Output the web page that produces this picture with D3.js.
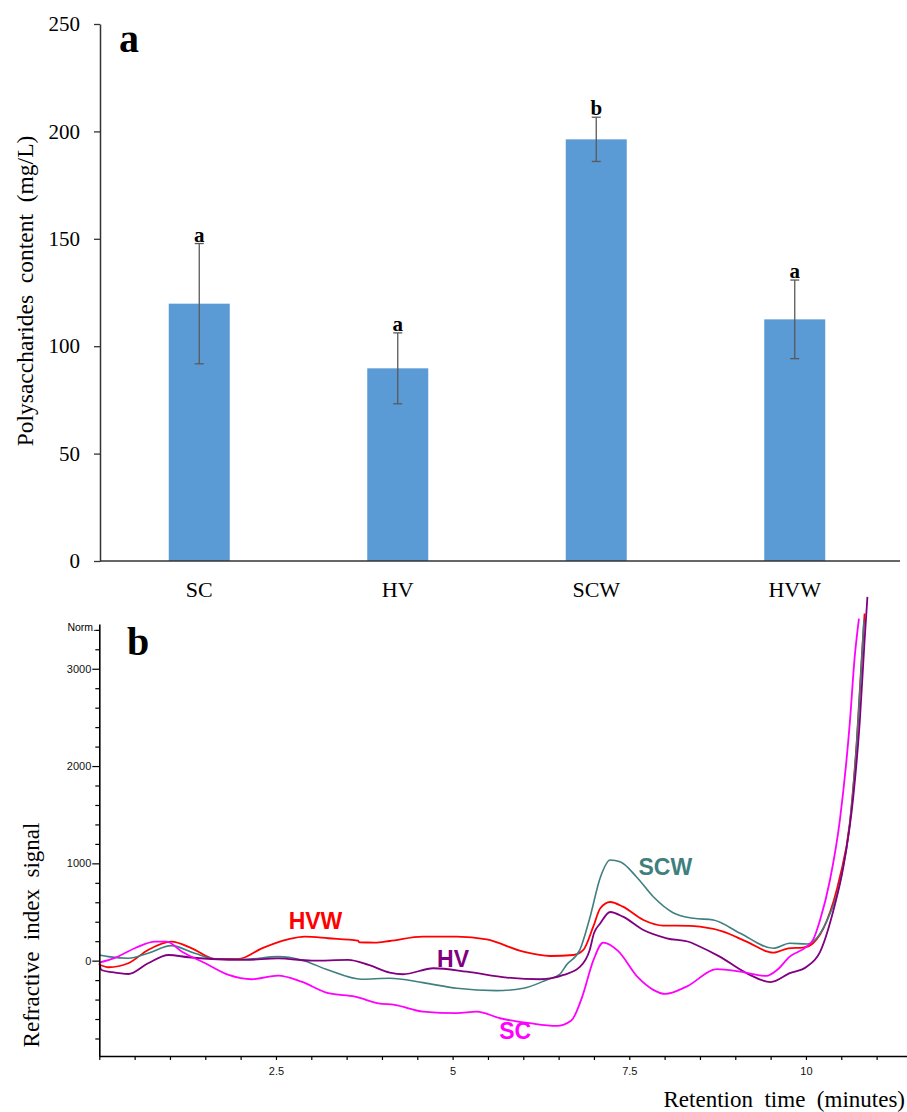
<!DOCTYPE html>
<html>
<head>
<meta charset="utf-8">
<script src="https://cdn.jsdelivr.net/npm/d3@7"></script>
<style>
  body { margin: 0; background: #fff; }
  svg { display: block; }
</style>
</head>
<body>
<svg id="svg" width="907" height="1112"></svg>
<script>
// ---- panel a : polysaccharides content ----
const groups = ['SC', 'HV', 'SCW', 'HVW'];
const contents = [119.8, 89.7, 196.3, 112.5];
const errors = [28, 16.5, 10.3, 18.3];
const letters = ['a', 'a', 'b', 'a'];
const contentTicks = [0, 50, 100, 150, 200, 250];

// ---- panel b : RI chromatograms, [time (min), signal] ----
const seriesNames = ['HVW', 'SCW', 'HV', 'SC'];
const hvw = [[0,-40],[0.13,-68],[0.41,-27],[0.69,110],[1.02,195],[1.31,127],[1.64,17],[1.97,17],[2.3,127],[2.67,219],[2.91,246],[3.24,230],[3.66,205],[3.68,189],[3.9,185],[4.11,202],[4.58,246],[5.06,246],[5.48,219],[6.0,92],[6.38,48],[6.71,58],[6.85,110],[6.99,349],[7.09,538],[7.23,603],[7.41,555],[7.7,418],[7.98,360],[8.36,358],[8.5,349],[8.83,298],[9.16,195],[9.54,82],[9.75,127],[9.96,134],[10.1,179],[10.29,400],[10.48,860],[10.62,1411],[10.72,2267],[10.79,3122],[10.83,3568]];
const scw = [[0,58],[0.13,41],[0.41,24],[0.69,76],[1.02,154],[1.35,76],[1.68,14],[2.06,14],[2.53,41],[2.86,7],[3.24,-96],[3.71,-191],[4.11,-181],[4.58,-226],[5.06,-284],[5.62,-308],[6.0,-284],[6.33,-198],[6.52,-137],[6.61,-44],[6.8,110],[6.94,435],[7.09,855],[7.23,1034],[7.37,1017],[7.6,863],[7.84,657],[8.12,493],[8.41,435],[8.69,418],[9.07,281],[9.54,127],[9.77,179],[10.01,171],[10.15,230],[10.29,401],[10.48,800],[10.62,1400],[10.72,2250],[10.79,3100],[10.82,3500]];
const hv = [[0,-27],[0.03,-96],[0.18,-119],[0.41,-137],[0.69,-27],[0.98,58],[1.26,35],[1.59,17],[2.06,7],[2.53,24],[3.01,0],[3.52,7],[3.81,-44],[4.11,-123],[4.3,-140],[4.73,-78],[5.2,-113],[5.77,-174],[6.24,-191],[6.57,-147],[6.8,-65],[6.94,110],[7.0,281],[7.09,384],[7.23,500],[7.41,452],[7.7,315],[8.03,230],[8.36,189],[8.45,161],[8.78,41],[9.16,-129],[9.5,-220],[9.77,-129],[10.01,-62],[10.2,90],[10.39,520],[10.53,966],[10.67,1684],[10.76,2438],[10.83,3294],[10.87,3739]];
const sc = [[0,-20],[0.22,28],[0.51,130],[0.79,195],[0.95,195],[1.17,92],[1.5,-27],[1.83,-147],[2.16,-191],[2.53,-154],[2.86,-216],[3.24,-335],[3.62,-370],[3.95,-438],[4.18,-455],[4.58,-524],[5.06,-540],[5.34,-524],[5.67,-592],[6.09,-643],[6.47,-671],[6.68,-615],[6.83,-380],[6.99,0],[7.13,185],[7.34,100],[7.62,-170],[7.84,-300],[8.01,-342],[8.31,-267],[8.74,-88],[9.07,-113],[9.44,-157],[9.59,-96],[9.77,41],[10.01,144],[10.1,213],[10.2,418],[10.34,829],[10.48,1445],[10.62,2438],[10.69,3122],[10.75,3516]];
const timeTicks = [2.5, 5, 7.5, 10];
const signalTicks = [0, 1000, 2000, 3000];

const svg = d3.select('#svg');
const serif = '"Liberation Serif", "Times New Roman", serif';
const sans = '"Liberation Sans", Arial, sans-serif';

drawBars();
drawTraces();

function drawBars() {
  const x = d3.scaleBand().domain(groups).range([100, 894]);
  const y = d3.scaleLinear().domain([0, 250]).range([561, 24]);
  const bw = 61;
  const g = svg.append('g');

  g.selectAll('rect').data(groups).join('rect')
    .attr('x', d => x(d) + x.bandwidth() / 2 - bw / 2)
    .attr('y', (d, i) => y(contents[i]))
    .attr('width', bw)
    .attr('height', (d, i) => y(0) - y(contents[i]))
    .attr('fill', '#5b9bd5');

  // error bars
  groups.forEach((d, i) => {
    const cx = x(d) + x.bandwidth() / 2;
    const top = y(contents[i] + errors[i]), bot = y(contents[i] - errors[i]);
    const eb = g.append('g').attr('stroke', '#595959').attr('stroke-width', 1.3);
    eb.append('line').attr('x1', cx).attr('x2', cx).attr('y1', top).attr('y2', bot);
    eb.append('line').attr('x1', cx - 4.5).attr('x2', cx + 4.5).attr('y1', top).attr('y2', top);
    eb.append('line').attr('x1', cx - 4.5).attr('x2', cx + 4.5).attr('y1', bot).attr('y2', bot);
    g.append('text')
      .attr('x', cx).attr('y', top - 2)
      .attr('text-anchor', 'middle')
      .attr('font-family', serif).attr('font-weight', 'bold').attr('font-size', 21)
      .text(letters[i]);
  });

  // y axis
  const ya = g.append('g').attr('transform', 'translate(100,0)')
    .call(d3.axisLeft(y).tickValues(contentTicks).tickSize(6).tickPadding(14).tickSizeOuter(0));
  ya.select('.domain').attr('stroke', '#333').attr('stroke-width', 1.5);
  ya.selectAll('.tick line').attr('stroke', '#333').attr('stroke-width', 1.3);
  ya.selectAll('text').attr('font-family', serif).attr('font-size', 21).attr('fill', '#000');

  // x axis
  g.append('line').attr('x1', 100).attr('x2', 900).attr('y1', y(0)).attr('y2', y(0))
    .attr('stroke', '#333').attr('stroke-width', 1.6);
  g.selectAll('.cat').data(groups).join('text')
    .attr('x', d => x(d) + x.bandwidth() / 2).attr('y', 597)
    .attr('text-anchor', 'middle')
    .attr('font-family', serif).attr('font-size', 22)
    .text(d => d);

  g.append('text')
    .attr('transform', 'translate(33,291) rotate(-90)')
    .attr('text-anchor', 'middle')
    .attr('font-family', serif).attr('font-size', 23.5)
    .attr('xml:space', 'preserve')
    .text('Polysaccharides  content  (mg/L)');

  g.append('text').attr('x', 119).attr('y', 52)
    .attr('font-family', serif).attr('font-weight', 'bold').attr('font-size', 40)
    .text('a');
}

function drawTraces() {
  const x = d3.scaleLinear().domain([0, 11.43]).range([99.3, 907]);
  const y = d3.scaleLinear().domain([-980, 3460]).range([1056, 624]);
  const g = svg.append('g');
  const colors = { HVW: '#ff0000', SCW: '#3f7f7f', HV: '#800080', SC: '#ff00ff' };
  const traces = { HVW: hvw, SCW: scw, HV: hv, SC: sc };

  const line = d3.line()
    .x(d => x(d[0])).y(d => y(d[1]))
    .curve(d3.curveMonotoneX);

  seriesNames.forEach(name => {
    g.append('path')
      .attr('d', line(traces[name]))
      .attr('fill', 'none')
      .attr('stroke', colors[name])
      .attr('stroke-width', name === 'SCW' ? 1.6 : 1.8);
  });

  // series labels (positions in data units)
  const labelAt = { HVW: [2.68, 330], SCW: [7.63, 880], HV: [4.78, -62], SC: [5.66, -810] };
  seriesNames.forEach(name => {
    g.append('text')
      .attr('x', x(labelAt[name][0])).attr('y', y(labelAt[name][1]))
      .attr('font-family', sans).attr('font-weight', 'bold').attr('font-size', 23)
      .attr('fill', colors[name])
      .text(name);
  });

  // x axis: minor every 0.5, labels at 2.5 steps
  const xa = g.append('g').attr('transform', 'translate(0,1056)')
    .call(d3.axisBottom(x).tickValues(d3.range(0, 11.01, 0.5)).tickSize(4).tickPadding(7)
      .tickFormat(d => timeTicks.includes(d) ? d3.format('~g')(d) : '').tickSizeOuter(0));
  xa.select('.domain').attr('stroke', '#000').attr('stroke-width', 1.6);
  xa.selectAll('.tick line').attr('stroke', '#000').attr('stroke-width', 1.2);
  xa.selectAll('text').attr('font-family', sans).attr('font-size', 11).attr('fill', '#111');

  // y axis: minor every 200, labels at 1000 steps
  const ya = g.append('g').attr('transform', 'translate(99.3,0)')
    .call(d3.axisLeft(y).tickValues(d3.range(-800, 3401, 200)).tickSize(4).tickPadding(2)
      .tickFormat(d => signalTicks.includes(d) ? d : '').tickSizeOuter(0));
  ya.select('.domain').attr('stroke', '#000').attr('stroke-width', 1.6);
  ya.selectAll('.tick line').attr('stroke', '#000').attr('stroke-width', 1.2)
    .attr('x2', d => signalTicks.includes(d) ? -7 : -4);
  ya.selectAll('text').attr('font-family', sans).attr('font-size', 11).attr('fill', '#111')
    .attr('x', -8);
  g.append('text').attr('x', 96).attr('y', y(3400)).attr('dy', '0.15em')
    .attr('text-anchor', 'end')
    .attr('font-family', sans).attr('font-size', 10.5)
    .text('Norm.');

  g.append('text')
    .attr('transform', 'translate(39,935) rotate(-90)')
    .attr('text-anchor', 'middle')
    .attr('font-family', serif).attr('font-size', 23)
    .attr('xml:space', 'preserve')
    .text('Refractive  index  signal');
  g.append('text')
    .attr('x', 905).attr('y', 1107)
    .attr('text-anchor', 'end')
    .attr('font-family', serif).attr('font-size', 23)
    .attr('xml:space', 'preserve')
    .text('Retention  time  (minutes)');

  g.append('text').attr('x', 127).attr('y', 655)
    .attr('font-family', serif).attr('font-weight', 'bold').attr('font-size', 40)
    .text('b');
}
</script>
</body>
</html>
